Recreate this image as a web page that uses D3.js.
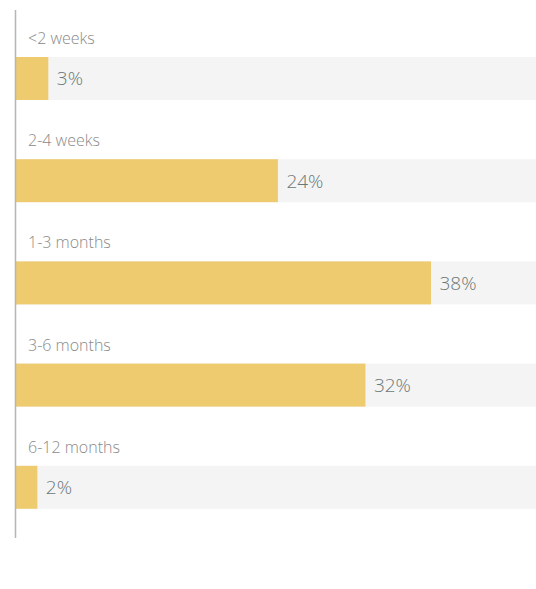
<!DOCTYPE html>
<html>
<head>
<meta charset="utf-8">
<script src="https://cdn.jsdelivr.net/npm/d3@7"></script>
<style>
  html, body { margin: 0; padding: 0; background: #ffffff; }
  svg { display: block; }
</style>
</head>
<body>
<svg id="chart" width="536" height="589"></svg>
<script>
// Time to hire, share of responses
const categories = ["<2 weeks", "2-4 weeks", "1-3 months", "3-6 months", "6-12 months"];
const shares = [3, 24, 38, 32, 2];

const width = 536, height = 589;
const axisX = 15.5;
const svg = d3.select("#chart");

const y = d3.scaleBand()
  .domain(categories)
  .range([10, 521])
  .paddingInner(0)
  .paddingOuter(0);

const x = d3.scaleLinear()
  .domain([0, 47.6])
  .range([axisX, width]);

const barOffset = 47, barHeight = 43;

const rows = svg.selectAll("g.row")
  .data(categories.map((c, i) => ({ cat: c, value: shares[i] })))
  .join("g")
  .attr("class", "row")
  .attr("transform", d => `translate(0,${y(d.cat)})`);

// full-width track
rows.append("rect")
  .attr("x", axisX)
  .attr("y", barOffset)
  .attr("width", width - axisX)
  .attr("height", barHeight)
  .attr("fill", "#f4f4f4");

// value bar
rows.append("rect")
  .attr("x", axisX)
  .attr("y", barOffset)
  .attr("width", d => x(d.value) - x(0))
  .attr("height", barHeight)
  .attr("fill", "#efcb6f");

// category label
rows.append("text")
  .attr("x", 28)
  .attr("y", 34)
  .attr("font-family", "'Open Sans', sans-serif")
  .attr("font-weight", 300)
  .attr("font-size", 16)
  .attr("fill", "#8a8a8a")
  .text(d => d.cat);

// value label
rows.append("text")
  .attr("x", d => x(d.value) + 8.5)
  .attr("y", barOffset + barHeight / 2)
  .attr("dy", "0.36em")
  .attr("font-family", "'Open Sans', sans-serif")
  .attr("font-weight", 300)
  .attr("font-size", 19)
  .attr("fill", "#6b7878")
  .text(d => d.value + "%");

// left axis line
svg.append("line")
  .attr("x1", axisX).attr("x2", axisX)
  .attr("y1", 10).attr("y2", 538)
  .attr("stroke", "#b5b5b5")
  .attr("stroke-width", 1.5);
</script>
</body>
</html>
